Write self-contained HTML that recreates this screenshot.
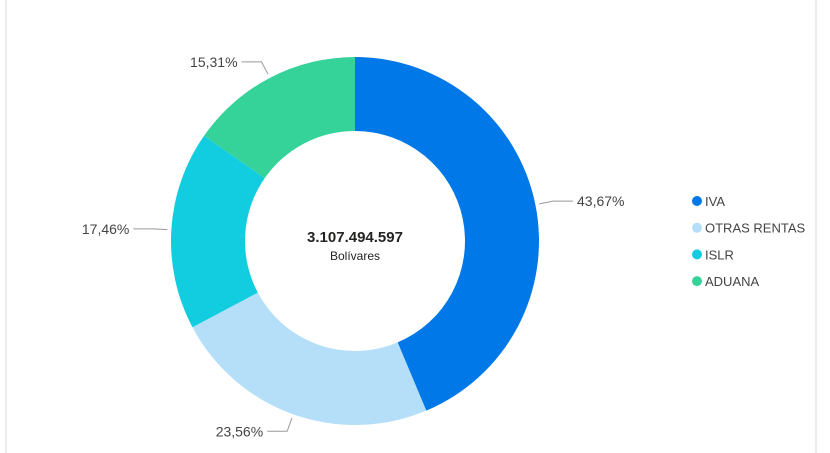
<!DOCTYPE html>
<html><head><meta charset="utf-8"><style>
body{margin:0;background:#fff;}
svg{display:block;font-family:"Segoe UI","Liberation Sans",sans-serif;}
</style></head><body>
<svg width="830" height="453">
<rect x="6" y="-2" width="810" height="470" fill="#fff" stroke="#e6e6e6" stroke-width="1.5"/>
<g id="slices"></g><g id="labels"></g>
<text x="355" y="242" text-anchor="middle" font-size="15" font-weight="bold" fill="#252423">3.107.494.597</text>
<text x="355" y="260" text-anchor="middle" font-size="12" fill="#252423">Bolívares</text>
<g id="legend"></g>
</svg>
<script>
const categories=["IVA","OTRAS RENTAS","ISLR","ADUANA"];
const values=[43.67,23.56,17.46,15.31];
const valueLabels=["43,67%","23,56%","17,46%","15,31%"];
const colors=["#0078e8","#b5dff8","#12cde0","#35d39a"];
const NS="http://www.w3.org/2000/svg";
const cx=355,cy=241,R=184,r=110;
const total=values.reduce((a,b)=>a+b,0);
function pt(rad,a){return [cx+rad*Math.sin(a),cy-rad*Math.cos(a)];}
let acc=0;
const sl=document.getElementById('slices'),lb=document.getElementById('labels'),lg=document.getElementById('legend');
values.forEach((v,i)=>{
 const a0=acc/total*2*Math.PI;acc+=v;const a1=acc/total*2*Math.PI;
 const big=(a1-a0)>Math.PI?1:0;
 const p0=pt(R,a0),p1=pt(R,a1),q1=pt(r,a1),q0=pt(r,a0);
 const p=document.createElementNS(NS,'path');
 p.setAttribute('d',`M${p0}A${R},${R} 0 ${big} 1 ${p1}L${q1}A${r},${r} 0 ${big} 0 ${q0}Z`);
 p.setAttribute('fill',colors[i]);
 
 
 sl.appendChild(p);
 const am=(a0+a1)/2;const s=pt(R+4,am),e=pt(R+18,am);
 const right=Math.sin(am)>=0;const hx=e[0]+(right?20:-20);
 const l=document.createElementNS(NS,'polyline');
 l.setAttribute('points',`${s} ${e} ${hx},${e[1]}`);
 l.setAttribute('fill','none');l.setAttribute('stroke','#999');l.setAttribute('stroke-width','1');
 
 
 lb.appendChild(l);
 const t=document.createElementNS(NS,'text');
 t.setAttribute('x',hx+(right?4:-4));t.setAttribute('y',e[1]+5);
 t.setAttribute('text-anchor',right?'start':'end');t.setAttribute('font-size','14');t.setAttribute('fill','#444');
 t.textContent=valueLabels[i];
 
 
 lb.appendChild(t);
 const c=document.createElementNS(NS,'circle');
 c.setAttribute('cx',697);c.setAttribute('cy',201+i*26.7);c.setAttribute('r',5);c.setAttribute('fill',colors[i]);
 
 
 lg.appendChild(c);
 const lt=document.createElementNS(NS,'text');
 lt.setAttribute('x',705);lt.setAttribute('y',206+i*26.7);lt.setAttribute('font-size','13');lt.setAttribute('fill','#444');
 lt.textContent=categories[i];
 
 
 lg.appendChild(lt);
});
</script>
</body></html>
